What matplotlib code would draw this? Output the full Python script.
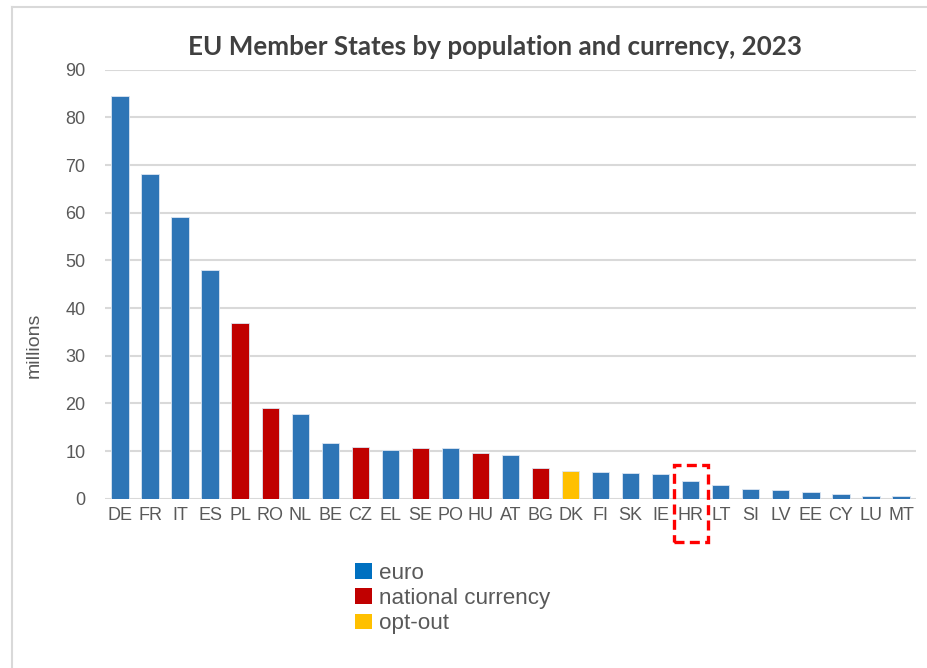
import matplotlib.pyplot as plt
from matplotlib.patches import Rectangle, Patch
from matplotlib.lines import Line2D

# population 2023, millions
countries = ['DE', 'FR', 'IT', 'ES', 'PL', 'RO', 'NL', 'BE', 'CZ', 'EL', 'SE', 'PO', 'HU',
             'AT', 'BG', 'DK', 'FI', 'SK', 'IE', 'HR', 'LT', 'SI', 'LV', 'EE', 'CY', 'LU', 'MT']
population = [84.4, 68.1, 59.0, 47.9, 36.8, 19.0, 17.8, 11.7, 10.8, 10.3, 10.6, 10.6, 9.6,
              9.2, 6.4, 5.9, 5.6, 5.4, 5.2, 3.8, 2.8, 2.1, 1.8, 1.4, 0.9, 0.6, 0.55]
currency = ['euro', 'euro', 'euro', 'euro', 'national', 'national', 'euro', 'euro', 'national',
            'euro', 'national', 'euro', 'national', 'euro', 'national', 'optout', 'euro', 'euro',
            'euro', 'euro', 'euro', 'euro', 'euro', 'euro', 'euro', 'euro', 'euro']
legend_labels = ['euro', 'national currency', 'opt-out']
highlight = 'HR'

colors = {'euro': '#2E75B6', 'national': '#C00000', 'optout': '#FFC000'}
legend_colors = ['#0070C0', '#C00000', '#FFC000']
grey = '#595959'

fig = plt.figure(figsize=(9.28, 6.68), dpi=100)
ax = fig.add_axes([0.1131, 0.2534, 0.8740, 0.6423])

x = range(len(countries))
ax.bar(x, population, width=0.575, color=[colors[c] for c in currency],
       edgecolor='#DCE6F2', linewidth=0.6, zorder=3)

ax.set_ylim(0, 90)
ax.set_xlim(-0.5, len(countries) - 0.5)
ax.set_yticks(range(0, 91, 10))
ax.yaxis.grid(True, color='#D9D9D9', linewidth=1.5, zorder=0)
for s in ax.spines.values():
    s.set_visible(False)
ax.tick_params(axis='both', length=0, labelsize=13, labelcolor=grey)
ax.tick_params(axis='y', pad=14)
ax.tick_params(axis='x', pad=6)
ax.set_xticks(list(x))
ax.set_xticklabels(countries, fontfamily='Liberation Sans')
for lab in ax.get_yticklabels():
    lab.set_fontfamily('Liberation Sans')
ax.set_ylabel('millions', fontsize=14, color=grey, fontfamily='Liberation Sans')
ax.yaxis.set_label_coords(-0.077, 0.358)

fig.text(0.533, 0.930, 'EU Member States by population and currency, 2023', ha='center',
         va='center', fontsize=18.7, fontweight='bold', color='#404040', fontfamily='Lato')

# dashed box around the highlighted country
hi = countries.index(highlight)
ax.add_patch(Rectangle((hi - 0.56, -9.0), 1.12, population[hi] + 12.2, fill=False,
                       edgecolor='#FF0000', linewidth=2.4, linestyle=(0, (3, 1.6)),
                       clip_on=False, zorder=5))

handles = [Patch(facecolor=c, edgecolor='none') for c in legend_colors]
fig.legend(handles, legend_labels, loc='upper left', bbox_to_anchor=(0.361, 0.188),
           frameon=False, handlelength=0.74, handleheight=0.7,
           handletextpad=0.32, labelspacing=0.2, labelcolor=grey,
           prop={'family': 'Liberation Sans', 'size': 16.1})

# outer frame lines
fig.add_artist(Line2D([0.013, 0.013], [0, 0.990], color='#D9D9D9', linewidth=1.5))
fig.add_artist(Line2D([0.013, 1.0], [0.990, 0.990], color='#D9D9D9', linewidth=1.5))

fig.savefig('out.png', dpi=100)
